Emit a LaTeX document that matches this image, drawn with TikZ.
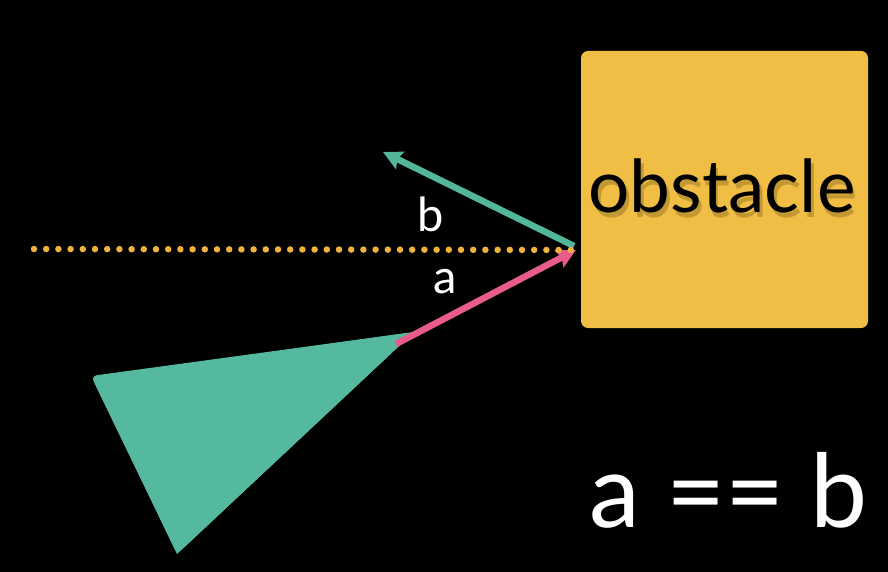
\documentclass[tikz,border=0pt]{standalone}
\usepackage{fontspec}
\setmainfont{Lato}
\usetikzlibrary{arrows.meta}
\definecolor{obsyellow}{HTML}{F0BE44}
\definecolor{obsshadow}{HTML}{8A6A20}
\definecolor{dotorange}{HTML}{EFB23F}
\definecolor{vecpink}{HTML}{E85C8A}
\definecolor{vecgreen}{HTML}{52B79A}
\definecolor{trigreen}{HTML}{55B9A0}
\tikzset{
  vecarrow/.style={line width=6.5pt, -{Stealth[length=19pt,width=19pt,inset=3pt]}},
  veclabel/.style={text=white, font=\fontsize{47}{47}\selectfont, inner sep=0pt},
}
\begin{document}
\begin{tikzpicture}[x=1pt,y=-1pt]
\fill[black] (0,0) rectangle (888,572);
\useasboundingbox (0,0) rectangle (888,572);
% obstacle
\node[fill=obsyellow, rounded corners=7pt, minimum width=287pt, minimum height=277pt, inner sep=0pt] (obs) at (724.5,189.5) {};
\node[text=obsshadow, opacity=0.45, font=\fontsize{73}{73}\selectfont, inner sep=0pt] (obsshad) at (724.5,190.5) {obstacle};
\node[text=black, font=\fontsize{73}{73}\selectfont, inner sep=0pt] (obstxt) at (722,186) {obstacle};
% triangle
\coordinate (apex) at (414,332);
\coordinate (tl) at (91,376);
\coordinate (tb) at (177,554);
\fill[trigreen, rounded corners=6pt] (tl) -- (apex) -- (tb) -- cycle;
\fill[trigreen] (tl) ++(3,1) -- (apex) -- (tb) -- cycle;
% vectors
\coordinate (hit) at (576,250);
\coordinate (astart) at (396,344);
\coordinate (bend) at (383,152);
\coordinate (bstart) at (574,246);
\draw[vecarrow, vecgreen] (bstart) -- (bend);
\draw[vecarrow, vecpink] (astart) -- (hit);
% dotted line
\coordinate (dotl) at (34,249);
\draw[dotorange, line width=6.5pt, line cap=round, dash pattern=on 0pt off 12.2pt] (dotl) -- (hit);
% labels
\node[veclabel] (lb) at (431,214) {b};
\node[veclabel] (la) at (445,282) {a};
\node[text=white, font=\fontsize{102}{102}\selectfont, inner sep=0pt, anchor=base east] (eq) at (868,527) {a == b};
\end{tikzpicture}
\end{document}
